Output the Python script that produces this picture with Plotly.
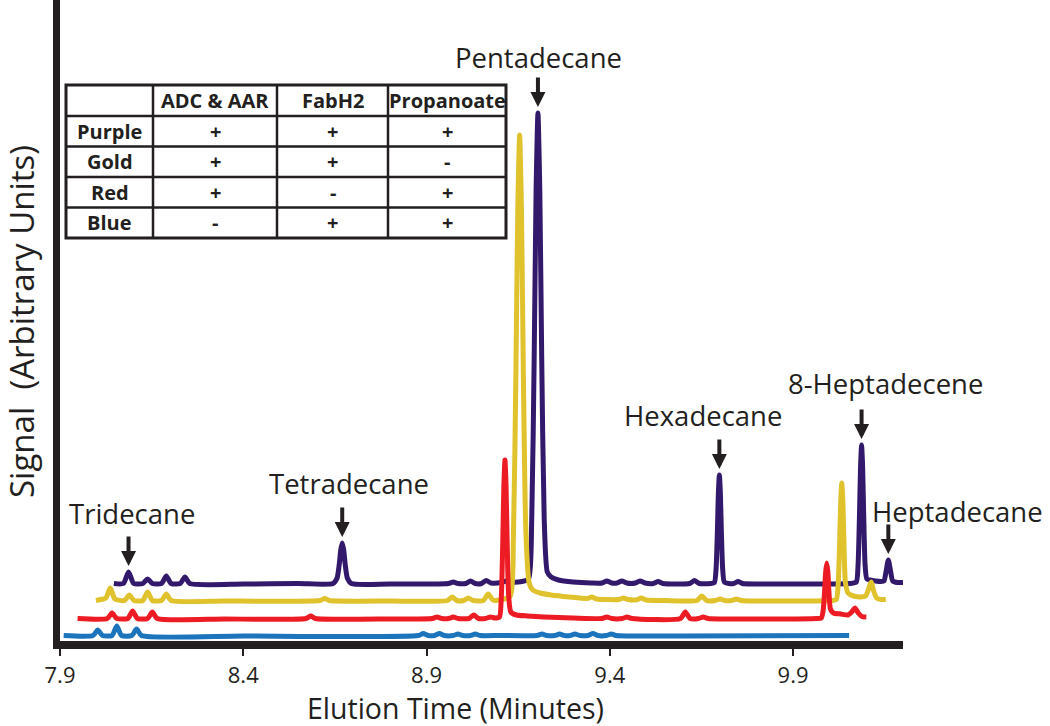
import plotly.graph_objects as go

# ---------------- data ----------------
TICK_VALUES = [7.9, 8.4, 8.9, 9.4, 9.9]
TICK_LABELS = ["7.9", "8.4", "8.9", "9.4", "9.9"]

purple_time = [
    8.047, 8.073, 8.087, 8.101, 8.126, 8.139, 8.152, 8.177, 8.190, 8.203, 8.228, 8.241, 8.254,
    8.40, 8.55, 8.645, 8.656, 8.662, 8.666, 8.670, 8.674, 8.678, 8.684, 8.695,
    8.80, 8.960, 8.973, 8.986, 9.007, 9.020, 9.033, 9.050, 9.063, 9.076, 9.105, 9.118, 9.131,
    9.160, 9.1785, 9.187, 9.1938, 9.1989, 9.204, 9.2091, 9.2142, 9.221, 9.2295, 9.240, 9.260,
    9.300, 9.350, 9.379, 9.392, 9.405, 9.420, 9.433, 9.446, 9.470, 9.483, 9.496, 9.519, 9.532,
    9.545, 9.618, 9.631, 9.644, 9.675, 9.6855, 9.690, 9.6936, 9.6963, 9.699, 9.7017, 9.7044,
    9.708, 9.7125, 9.725, 9.738, 9.750, 9.762, 9.85, 9.95, 10.055, 10.0726, 10.0774, 10.0812,
    10.0841, 10.087, 10.0899, 10.0928, 10.0966, 10.1014, 10.110, 10.125, 10.140, 10.148, 10.154,
    10.160, 10.166, 10.172, 10.185, 10.200,
]
purple_signal = [
    0.5, 0.5, 12, 0.5, 0.5, 5, 0.5, 0.5, 8, 0.5, 0.5, 7, 0.5,
    0, 0.5, 0.5, 6, 20, 34, 41, 34, 20, 6, 0.5,
    0, 0.5, 2, 0.5, 0.5, 3, 0.5, 0.5, 3.5, 1, 1.5, 3, 2,
    2.5, 5, 64, 229, 393, 471, 393, 229, 66, 12, 7, 4,
    2, 1, 1, 3, 1, 1, 3, 1, 1, 3, 1, 0.5, 2.5,
    0.5, 0.5, 3.5, 0.5, 0.5, 1.5, 15, 53, 91, 109, 91, 53,
    15, 2, 0.5, 0.5, 2.5, 0.5, 0, 0, 0.5, 2, 19, 68,
    116, 139, 116, 68, 19, 5, 4, 3, 2.5, 3, 13,
    24, 13, 3, 1.5, 1.5,
]

gold_time = [
    7.998, 8.025, 8.037, 8.050, 8.076, 8.089, 8.102, 8.126, 8.139, 8.152, 8.177, 8.190, 8.203,
    8.35, 8.609, 8.622, 8.635, 8.80, 8.957, 8.970, 8.983, 9.001, 9.014, 9.027, 9.055, 9.068,
    9.081, 9.100, 9.1285, 9.137, 9.1438, 9.1489, 9.154, 9.1591, 9.1642, 9.171, 9.180, 9.190,
    9.210, 9.240, 9.290, 9.338, 9.351, 9.364, 9.424, 9.437, 9.450, 9.473, 9.486, 9.499, 9.55,
    9.638, 9.651, 9.664, 9.688, 9.701, 9.714, 9.732, 9.745, 9.758, 9.90, 10.005, 10.018,
    10.023, 10.027, 10.030, 10.033, 10.036, 10.039, 10.043, 10.050, 10.065, 10.085, 10.098,
    10.106, 10.113, 10.120, 10.128, 10.140, 10.153,
]
gold_signal = [
    0.5, 3, 13, 2, 0.5, 6, 0.5, 0.5, 9, 0.5, 0.5, 7, 0.5,
    0, 0.5, 2.5, 0.5, 0, 0.5, 4, 0.5, 0.5, 3, 0.5, 0.5, 7,
    1, 1, 5, 63, 227, 389, 466, 389, 227, 70, 18, 11,
    8, 6, 4, 2.5, 4, 2, 1.5, 3, 1.5, 1.2, 3, 1, 0.5,
    0.5, 5, 0.5, 0.5, 2, 0.5, 0.5, 2, 0.5, 0, 0.5, 1.5,
    16, 57, 99, 118, 99, 57, 18, 8, 5, 4, 5,
    12, 19, 10, 3, 1.5, 1.5,
]

red_time = [
    7.948, 8.029, 8.042, 8.055, 8.085, 8.098, 8.111, 8.139, 8.152, 8.165, 8.35, 8.571, 8.584,
    8.597, 8.80, 8.916, 8.929, 8.942, 8.960, 8.973, 8.986, 9.016, 9.029, 9.042, 9.061, 9.074,
    9.087, 9.099, 9.104, 9.108, 9.111, 9.114, 9.117, 9.120, 9.124, 9.130, 9.145, 9.175, 9.22,
    9.30, 9.379, 9.392, 9.405, 9.434, 9.447, 9.460, 9.593, 9.606, 9.619, 9.642, 9.655, 9.668,
    9.85, 9.965, 9.977, 9.982, 9.986, 9.989, 9.992, 9.995, 9.998, 10.002, 10.010, 10.030,
    10.050, 10.060, 10.069, 10.078, 10.088, 10.100,
]
red_signal = [
    0.5, 0.5, 6, 0.5, 0.5, 8, 0.5, 0.5, 7, 0.5, 0, 0.5, 3,
    0.5, 0, 0.5, 2, 0.5, 0.5, 2, 0.5, 0.5, 4, 0.5, 0.5, 2,
    1, 2, 21, 77, 133, 159, 133, 77, 24, 7, 4, 3, 2,
    1, 0.5, 2, 0.5, 0.5, 2, 0.5, 0.5, 7, 0.5, 0.5, 2, 0.5,
    0, 0.5, 1, 8, 27, 47, 56, 47, 27, 10, 6, 5,
    4, 7, 11, 6, 2.5, 2,
]

blue_time = [
    7.910, 7.990, 8.003, 8.016, 8.042, 8.055, 8.068, 8.096, 8.109, 8.122, 8.40, 8.878, 8.891,
    8.904, 8.922, 8.935, 8.948, 8.973, 8.986, 8.999, 9.020, 9.033, 9.046, 9.100, 9.202, 9.215,
    9.228, 9.250, 9.263, 9.276, 9.292, 9.305, 9.318, 9.341, 9.354, 9.367, 9.391, 9.404, 9.417,
    9.60, 10.053,
]
blue_signal = [
    0.5, 0.5, 6, 0.5, 0.5, 10, 0.5, 0.5, 7, 0.5, 0, 0.5, 2.5,
    0.5, 0.5, 2.5, 0.5, 0.5, 2, 0.5, 0.5, 2, 0.5, 0.5, 0.5, 2,
    0.5, 0.5, 2, 0.5, 0.5, 2, 0.5, 0.5, 2.5, 0.5, 0.5, 2, 0.5,
    0, 0.5,
]

PEAK_NAMES = ["Tridecane", "Tetradecane", "Pentadecane", "Hexadecane", "8-Heptadecene", "Heptadecane"]
PEAK_TIMES = [8.087, 8.670, 9.204, 9.699, 10.087, 10.160]
PEAK_HEIGHTS = [12, 41, 471, 109, 139, 24]   # purple trace

TABLE_COLUMNS = ["ADC & AAR", "FabH2", "Propanoate"]
TABLE_ROWS = ["Purple", "Gold", "Red", "Blue"]
TABLE_VALUES = [
    ["+", "+", "+"],
    ["+", "+", "-"],
    ["+", "-", "+"],
    ["-", "+", "+"],
]

X_TITLE = "Elution Time (Minutes)"
Y_TITLE = "Signal  (Arbitrary Units)"

# ---------------- style / layout ----------------
FIG_W, FIG_H = 1050, 726
M_L, M_R, M_T, M_B = 60, 147, 0, 85
PLOT_W = FIG_W - M_L - M_R
PLOT_H = FIG_H - M_T - M_B

INK = "#231f20"
FONT = "Open Sans"
COLORS = {"Purple": "#33196b", "Gold": "#dfc22c", "Red": "#ed1c24", "Blue": "#1c75bc"}
OFFSETS = {"Purple": 57, "Gold": 40, "Red": 22, "Blue": 5}


def px_x(px):
    return (px - M_L) / PLOT_W


def px_y(py):
    return (M_T + PLOT_H - py) / PLOT_H


series = [
    ("Purple", purple_time, purple_signal),
    ("Gold", gold_time, gold_signal),
    ("Red", red_time, red_signal),
    ("Blue", blue_time, blue_signal),
]

fig = go.Figure()
for name, t, s in series:
    off = OFFSETS[name]
    fig.add_trace(go.Scatter(
        x=t, y=[v + off for v in s], mode="lines", name=name,
        line=dict(color=COLORS[name], width=5, shape="spline", smoothing=0.6),
        showlegend=False, hoverinfo="skip",
    ))

annotations = []
shapes = []

# peak labels and arrows
LABEL_POS_PX = [(132, 513), (349, 483), (538, 57), (703, 415), (885, 383), (958, 511)]
ARROW_GAP = 6
ARROW_LEN = 31
for name, t, h, (lx, ly) in zip(PEAK_NAMES, PEAK_TIMES, PEAK_HEIGHTS, LABEL_POS_PX):
    annotations.append(dict(
        x=t, y=h + OFFSETS["Purple"] + ARROW_GAP, xref="x", yref="y",
        ax=0, ay=-ARROW_LEN, text="", showarrow=True,
        arrowhead=2, arrowsize=0.75, arrowwidth=4, arrowcolor=INK, standoff=0,
    ))
    annotations.append(dict(
        x=px_x(lx), y=px_y(ly), xref="paper", yref="paper", text=name,
        showarrow=False, xanchor="center", yanchor="middle",
        font=dict(family=FONT, size=27.5, color=INK),
    ))

# axis titles
annotations.append(dict(
    x=px_x(455), y=px_y(708), xref="paper", yref="paper", text=X_TITLE,
    showarrow=False, xanchor="center", yanchor="middle",
    font=dict(family=FONT, size=28.5, color=INK),
))
annotations.append(dict(
    x=px_x(22), y=px_y(322), xref="paper", yref="paper", text=Y_TITLE,
    showarrow=False, xanchor="center", yanchor="middle", textangle=-90,
    font=dict(family=FONT, size=33, color=INK),
))

# table
COL_X = [66, 153, 277, 388, 506]
ROW_Y = [85, 116, 146.5, 177, 207.5, 238]
for cx in COL_X[1:-1]:
    shapes.append(dict(type="line", xref="paper", yref="paper",
                       x0=px_x(cx), x1=px_x(cx), y0=px_y(ROW_Y[0]), y1=px_y(ROW_Y[-1]),
                       line=dict(color=INK, width=2.5)))
for ry in ROW_Y[1:-1]:
    shapes.append(dict(type="line", xref="paper", yref="paper",
                       x0=px_x(COL_X[0]), x1=px_x(COL_X[-1]), y0=px_y(ry), y1=px_y(ry),
                       line=dict(color=INK, width=2.5)))
shapes.append(dict(type="rect", xref="paper", yref="paper",
                   x0=px_x(COL_X[0]), x1=px_x(COL_X[-1]), y0=px_y(ROW_Y[0]), y1=px_y(ROW_Y[-1]),
                   line=dict(color=INK, width=3), fillcolor="rgba(0,0,0,0)"))


def cell_center(ci, ri):
    return px_x((COL_X[ci] + COL_X[ci + 1]) / 2), px_y((ROW_Y[ri] + ROW_Y[ri + 1]) / 2)


tfont = dict(family=FONT, size=20, color=INK, weight="bold")
for ci, head in enumerate(TABLE_COLUMNS):
    cx, cy = cell_center(ci + 1, 0)
    annotations.append(dict(x=cx, y=cy, xref="paper", yref="paper", text=head, showarrow=False,
                            xanchor="center", yanchor="middle", font=tfont))
for ri, rname in enumerate(TABLE_ROWS):
    cx, cy = cell_center(0, ri + 1)
    annotations.append(dict(x=cx, y=cy, xref="paper", yref="paper", text=rname, showarrow=False,
                            xanchor="center", yanchor="middle", font=tfont))
    for ci, val in enumerate(TABLE_VALUES[ri]):
        cx, cy = cell_center(ci + 1, ri + 1)
        annotations.append(dict(x=cx, y=cy, xref="paper", yref="paper", text=val, showarrow=False,
                                xanchor="center", yanchor="middle", font=tfont))

fig.update_layout(
    width=FIG_W, height=FIG_H,
    margin=dict(l=M_L, r=M_R, t=M_T, b=M_B, pad=0),
    template="none",
    paper_bgcolor="white", plot_bgcolor="white",
    font=dict(family=FONT, color=INK),
    showlegend=False,
    annotations=annotations,
    shapes=shapes,
    xaxis=dict(range=[7.9, 10.2], tickvals=TICK_VALUES, ticktext=TICK_LABELS,
               showline=True, linewidth=8, linecolor=INK, mirror=False,
               ticks="outside", ticklen=7, tickwidth=1.5, tickcolor=INK,
               ticklabelstandoff=1,
               tickfont=dict(family=FONT, size=22, color=INK),
               showgrid=False, zeroline=False, fixedrange=True),
    yaxis=dict(range=[0, PLOT_H], showline=True, linewidth=7, linecolor=INK,
               showticklabels=False, ticks="", showgrid=False, zeroline=False, fixedrange=True),
)

fig.write_html("out.html", config={"displayModeBar": False},
               post_script="document.body.style.margin='0';")
